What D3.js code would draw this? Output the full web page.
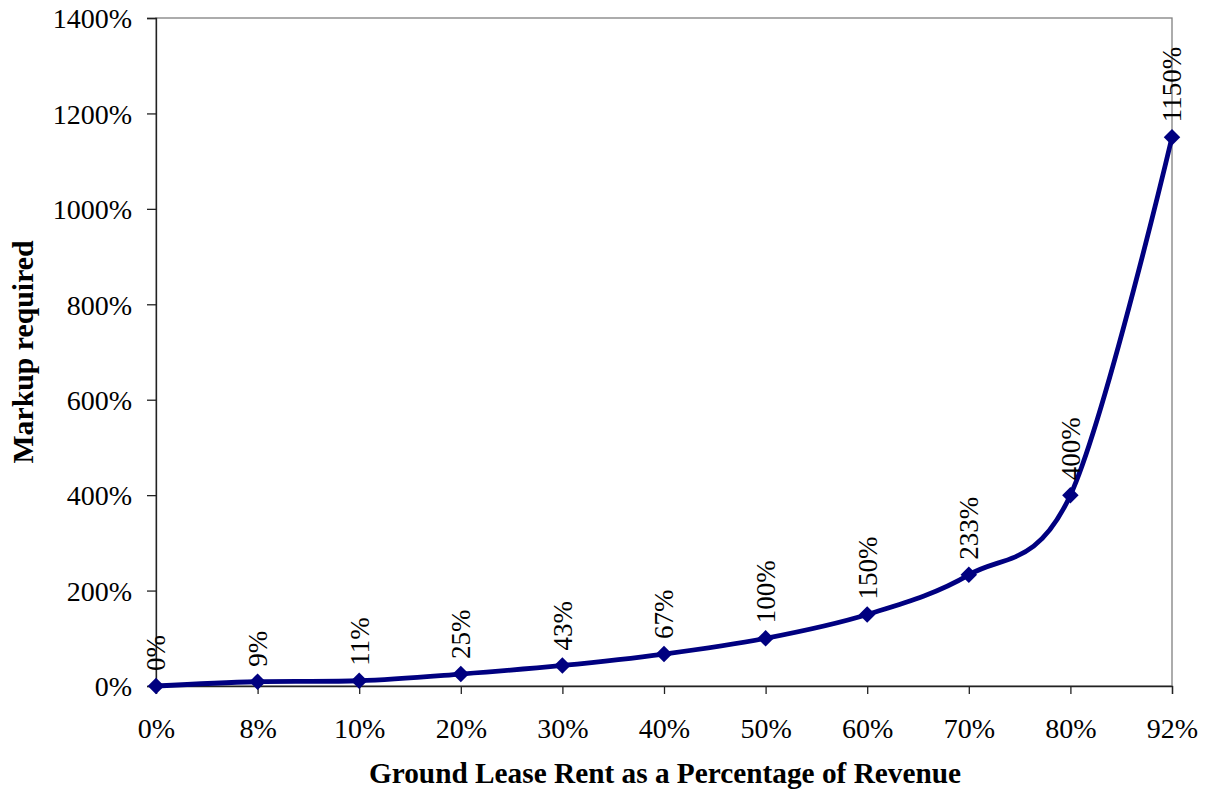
<!DOCTYPE html>
<html>
<head>
<meta charset="utf-8">
<script src="https://cdn.jsdelivr.net/npm/d3@7"></script>
<style>
  html, body { margin: 0; padding: 0; background: #fff; }
  svg { display: block; }
  text { font-family: "Liberation Serif", "Times New Roman", serif; fill: #000; }
</style>
</head>
<body>
<svg id="chart" width="1206" height="795"></svg>
<script>
const categories = ["0%", "8%", "10%", "20%", "30%", "40%", "50%", "60%", "70%", "80%", "92%"];
const markup = [0, 9, 11, 25, 43, 67, 100, 150, 233, 400, 1150];
const yTicks = [0, 200, 400, 600, 800, 1000, 1200, 1400];
const xTitle = "Ground Lease Rent as a Percentage of Revenue";
const yTitle = "Markup required";

const svg = d3.select("#chart");
const plotL = 156, plotR = 1172, plotT = 18, plotB = 686;

const x = d3.scalePoint().domain(categories).range([plotL, plotR]).padding(0);
const y = d3.scaleLinear().domain([0, 1400]).range([plotB, plotT]);

// plot border (gray top/right)
svg.append("rect")
  .attr("x", plotL).attr("y", plotT)
  .attr("width", plotR - plotL).attr("height", plotB - plotT)
  .attr("fill", "none").attr("stroke", "#808080").attr("stroke-width", 1.3);

// Y axis
const yAxis = svg.append("g")
  .attr("transform", `translate(${plotL},0)`)
  .call(d3.axisLeft(y).tickValues(yTicks).tickSize(9).tickPadding(15).tickFormat(d => d + "%"));
yAxis.select(".domain").attr("stroke", "#222").attr("stroke-width", 1.3);
yAxis.selectAll(".tick line").attr("stroke", "#222").attr("stroke-width", 1.3);
yAxis.selectAll(".tick text")
  .style("font-family", '"Liberation Serif", "Times New Roman", serif')
  .style("font-size", "28px").attr("fill", "#000").attr("dy", "0.35em");

// X axis
const xAxis = svg.append("g")
  .attr("transform", `translate(0,${plotB})`)
  .call(d3.axisBottom(x).tickSize(8).tickPadding(0));
xAxis.select(".domain").attr("stroke", "#222").attr("stroke-width", 1.3);
xAxis.selectAll(".tick line").attr("stroke", "#222").attr("stroke-width", 1.3);
xAxis.selectAll(".tick text")
  .style("font-family", '"Liberation Serif", "Times New Roman", serif')
  .style("font-size", "28px").attr("fill", "#000")
  .attr("y", 52).attr("dy", 0);

// line
const pts = categories.map((c, i) => ({ c, v: markup[i] }));
const line = d3.line()
  .x(d => x(d.c)).y(d => y(d.v))
  .curve(d3.curveCatmullRom.alpha(0));
svg.append("path")
  .datum(pts)
  .attr("d", line)
  .attr("fill", "none")
  .attr("stroke", "#000080")
  .attr("stroke-width", 4.8)
  .attr("stroke-linejoin", "round");

// markers
svg.append("g").selectAll("path")
  .data(pts).join("path")
  .attr("d", d3.symbol(d3.symbolSquare, 136))
  .attr("transform", d => `translate(${x(d.c)},${y(d.v)}) rotate(45)`)
  .attr("fill", "#000080");

// data labels
svg.append("g").selectAll("text")
  .data(pts).join("text")
  .attr("transform", d => `translate(${x(d.c)},${y(d.v) - 15}) rotate(-90)`)
  .attr("text-anchor", "start")
  .attr("dy", "0.35em")
  .style("font-size", "27px")
  .text(d => d.v + "%");

// axis titles
svg.append("text")
  .attr("x", 665).attr("y", 783)
  .attr("text-anchor", "middle")
  .style("font-size", "29.3px").style("font-weight", "bold")
  .text(xTitle);

svg.append("text")
  .attr("transform", `translate(33,${(plotT + plotB) / 2}) rotate(-90)`)
  .attr("text-anchor", "middle")
  .style("font-size", "29.8px").style("font-weight", "bold")
  .text(yTitle);
</script>
</body>
</html>
